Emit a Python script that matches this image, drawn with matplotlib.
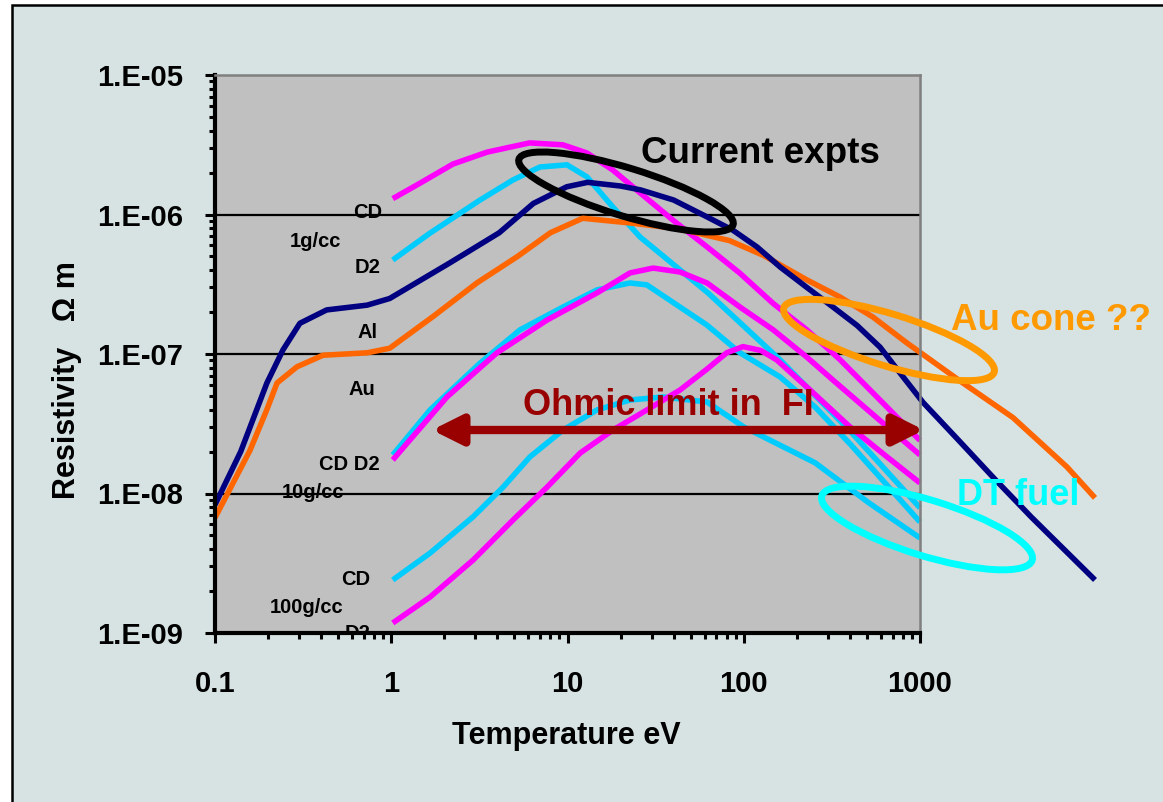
import matplotlib
matplotlib.use('Agg')
import matplotlib.pyplot as plt
from matplotlib.patches import Ellipse, Rectangle
from matplotlib.ticker import FixedLocator, LogLocator, NullFormatter

plt.rcParams['font.family'] = ['Liberation Sans', 'DejaVu Sans']
plt.rcParams['font.weight'] = 'bold'

# temperature (eV) and resistivity (Ohm m)
al_T = [0.1, 0.14, 0.197, 0.243, 0.303, 0.43, 0.73, 0.98, 2.15, 4.1, 6.4, 9.9, 13,
        20, 26, 40, 62, 87, 119, 161, 228, 321, 440, 593, 771, 1040, 1660, 2670,
        4270, 9840]
al_R = [8.3e-9, 2.0e-8, 6.2e-8, 1.07e-7, 1.66e-7, 2.07e-7, 2.24e-7, 2.5e-7, 4.5e-7,
        7.4e-7, 1.2e-6, 1.58e-6, 1.7e-6, 1.6e-6, 1.5e-6, 1.27e-6, 9.6e-7, 7.7e-7,
        5.85e-7, 4.2e-7, 3.0e-7, 2.17e-7, 1.6e-7, 1.12e-7, 7.3e-8, 4.5e-8, 2.4e-8,
        1.26e-8, 6.8e-9, 2.4e-9]

au_T = [0.1, 0.158, 0.197, 0.225, 0.292, 0.41, 0.73, 0.98, 1.73, 3.07, 5.2, 8.0,
        12.2, 22.6, 43, 83, 129, 228, 352, 541, 843, 1660, 3370, 6820, 9840]
au_R = [6.7e-9, 2.04e-8, 4.0e-8, 6.2e-8, 8.1e-8, 9.8e-8, 1.02e-7, 1.1e-7, 1.86e-7,
        3.24e-7, 5.0e-7, 7.4e-7, 9.4e-7, 8.7e-7, 7.9e-7, 6.5e-7, 5.1e-7, 3.4e-7,
        2.56e-7, 1.84e-7, 1.2e-7, 6.5e-8, 3.5e-8, 1.55e-8, 9.3e-9]

# 1 g/cc
cd1_T = [1.02, 1.46, 2.24, 3.5, 6.1, 9.4, 12.9, 18.1, 25.8, 39.7, 62, 95, 147, 228,
         352, 1000]
cd1_R = [1.3e-6, 1.68e-6, 2.3e-6, 2.8e-6, 3.26e-6, 3.16e-6, 2.76e-6, 2.08e-6, 1.43e-6,
         9.1e-7, 5.85e-7, 3.8e-7, 2.3e-7, 1.49e-7, 9.1e-8, 2.4e-8]
d21_T = [1.02, 1.66, 3.19, 4.91, 6.98, 9.93, 12.9, 18.1, 25.8, 62.7, 161, 406, 1000]
d21_R = [4.72e-7, 7.36e-7, 1.27e-6, 1.77e-6, 2.19e-6, 2.27e-6, 1.86e-6, 1.13e-6,
         6.9e-7, 2.74e-7, 9.06e-8, 2.76e-8, 7.9e-9]

# 10 g/cc
cd10_T = [1.02, 1.66, 3.19, 5.38, 9.43, 14.7, 22.6, 28.2, 43.5, 61.9, 95.2, 161, 254,
          406, 1000]
cd10_R = [1.89e-8, 3.97e-8, 8.6e-8, 1.49e-7, 2.17e-7, 2.88e-7, 3.23e-7, 3.13e-7,
          2.17e-7, 1.61e-7, 1.02e-7, 6.84e-8, 4.17e-8, 2.23e-8, 6.25e-9]
d210_T = [1.02, 2.07, 3.98, 7.65, 14.7, 22.6, 30.6, 43.5, 61.9, 95.2, 147, 228, 321,
          1000]
d210_R = [1.74e-8, 4.92e-8, 1.02e-7, 1.75e-7, 2.74e-7, 3.81e-7, 4.13e-7, 3.87e-7,
          3.23e-7, 2.17e-7, 1.49e-7, 9.5e-8, 6.5e-8, 1.89e-8]

# 100 g/cc
cd100_T = [1.02, 1.66, 2.91, 4.31, 6.12, 9.43, 14.7, 22.6, 34.8, 61.9, 100, 254, 514,
           1000]
cd100_R = [2.4e-9, 3.74e-9, 6.8e-9, 1.11e-8, 1.83e-8, 2.85e-8, 3.97e-8, 4.68e-8,
           4.92e-8, 4.53e-8, 3.0e-8, 1.66e-8, 8.55e-9, 4.8e-9]
d2100_T = [1.02, 1.66, 2.91, 4.91, 7.65, 11.8, 18.1, 28.2, 43.5, 61.9, 80, 99, 125,
           154, 238, 401, 650, 1000]
d2100_R = [1.18e-9, 1.81e-9, 3.33e-9, 6.46e-9, 1.11e-8, 1.95e-8, 2.85e-8, 3.97e-8,
           5.52e-8, 7.8e-8, 1.02e-7, 1.13e-7, 1.06e-7, 9.06e-8, 5.52e-8, 3.0e-8,
           1.83e-8, 1.19e-8]

x_ticks = [0.1, 1, 10, 100, 1000]
x_labels = ['0.1', '1', '10', '100', '1000']
y_ticks = [1e-9, 1e-8, 1e-7, 1e-6, 1e-5]
y_labels = ['1.E-09', '1.E-08', '1.E-07', '1.E-06', '1.E-05']

W, H = 1163, 802


def fx(px):
    return px / W


def fy(py):
    return 1 - py / H


fig = plt.figure(figsize=(W / 100, H / 100), dpi=100, facecolor='white')
fig.patches.append(Rectangle((fx(12), -0.05), 1.1, fy(5) + 0.05,
                             transform=fig.transFigure, facecolor='#D7E3E3',
                             edgecolor='black', lw=1.8, zorder=-5))

ax = fig.add_axes([fx(215), fy(633), fx(920) - fx(215), fy(75) - fy(633)])
ax.set_facecolor('#C0C0C0')
ax.set_xscale('log')
ax.set_yscale('log')
ax.set_xlim(0.1, 1000)
ax.set_ylim(1e-9, 1e-5)

for g in y_ticks[1:-1]:
    ax.axhline(g, color='black', lw=1.6, zorder=1.5)

navy = '#000080'
orange = '#FF6600'
magenta = '#FF00FF'
cyan = '#00CCFF'
lw = 4.0

kw = dict(lw=lw, clip_on=False, solid_capstyle='butt', solid_joinstyle='round',
          zorder=2)
ax.plot(d21_T, d21_R, color=cyan, **kw)
ax.plot(cd1_T, cd1_R, color=magenta, **kw)
ax.plot(cd10_T, cd10_R, color=cyan, **kw)
ax.plot(d210_T, d210_R, color=magenta, **kw)
ax.plot(cd100_T, cd100_R, color=cyan, **kw)
ax.plot(d2100_T, d2100_R, color=magenta, **kw)
ax.plot(au_T, au_R, color=orange, **kw)
ax.plot(al_T, al_R, color=navy, **kw)

# small curve labels (under the grid lines)
small = [('CD', 382, 218, 'right'), ('1g/cc', 290, 247, 'left'),
         ('D2', 381, 273, 'right'), ('Al', 367, 338, 'center'),
         ('Au', 362, 395, 'center'), ('CD D2', 380, 470, 'right'),
         ('10g/cc', 282, 498, 'left'), ('CD', 370, 585, 'right'),
         ('100g/cc', 270, 613, 'left'), ('D2', 370, 639, 'right')]
for s, x, y, ha in small:
    ax.text(fx(x), fy(y), s, transform=fig.transFigure, fontsize=14.5,
            fontweight='bold', ha=ha, va='baseline', zorder=1, clip_on=True)

# ticks and spines
ax.xaxis.set_major_locator(FixedLocator(x_ticks))
ax.set_xticklabels(x_labels)
ax.xaxis.set_minor_locator(LogLocator(base=10, subs=range(2, 10)))
ax.xaxis.set_minor_formatter(NullFormatter())
ax.yaxis.set_major_locator(FixedLocator(y_ticks))
ax.set_yticklabels(y_labels)
ax.yaxis.set_minor_locator(LogLocator(base=10, subs=range(2, 10)))
ax.yaxis.set_minor_formatter(NullFormatter())
ax.tick_params(which='major', direction='out', length=7, width=2.2)
ax.tick_params(which='minor', direction='out', length=4, width=2.2)
ax.tick_params(axis='x', which='major', pad=20, labelsize=21)
ax.tick_params(axis='y', which='major', pad=16, labelsize=21)
for lab in ax.get_xticklabels() + ax.get_yticklabels():
    lab.set_fontweight('bold')

for side in ['left', 'bottom']:
    ax.spines[side].set_linewidth(3)
    ax.spines[side].set_color('black')
for side in ['top', 'right']:
    ax.spines[side].set_linewidth(1.8)
    ax.spines[side].set_color('#808080')

ax.set_xlabel('Temperature eV', fontsize=22, fontweight='bold')
ax.xaxis.set_label_coords(0.499, -0.158)
ax.set_ylabel('Resistivity   \u03a9 m', fontsize=22, fontweight='bold')
ax.yaxis.set_label_coords(-0.188, 0.453)

# annotations
dark_red = '#990000'
ax.annotate('', xy=(fx(924), fy(430)), xytext=(fx(432), fy(430)),
            xycoords='figure fraction', textcoords='figure fraction',
            arrowprops=dict(arrowstyle='<|-|>,head_length=0.9,head_width=0.45',
                            color=dark_red, lw=6, mutation_scale=20,
                            shrinkA=0, shrinkB=0),
            annotation_clip=False, zorder=4)
fig.text(fx(523), fy(415), 'Ohmic limit in  FI', fontsize=26,
         fontweight='bold', color=dark_red, ha='left', va='baseline', zorder=5)
fig.text(fx(641), fy(163), 'Current expts', fontsize=26.5, fontweight='bold',
         color='black', ha='left', va='baseline', zorder=5)
fig.text(fx(951), fy(330), 'Au cone ??', fontsize=26.5, fontweight='bold',
         color='#FF9900', ha='left', va='baseline', zorder=5)
fig.text(fx(957), fy(505), 'DT fuel', fontsize=26, fontweight='bold',
         color='#00FFFF', ha='left', va='baseline', zorder=5)

# ellipses in pixel space (inches), tilted down to the right
rings = [(626, 192, 224, 48, 'black'),
         (889, 340, 220, 52, '#FF9900'),
         (927, 528, 220, 56, '#00FFFF')]
for x, y, w, h, c in rings:
    fig.patches.append(Ellipse((x / 100, (H - y) / 100), w / 100, h / 100,
                               angle=-17, transform=fig.dpi_scale_trans,
                               fill=False, edgecolor=c, lw=5, zorder=6))

fig.savefig('out.png', dpi=100, facecolor=fig.get_facecolor())
